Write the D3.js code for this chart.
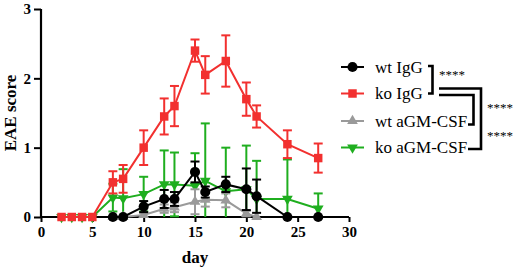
<!DOCTYPE html>
<html>
<head>
<meta charset="utf-8">
<script src="https://cdn.jsdelivr.net/npm/d3@7"></script>
<style>
  html, body { margin: 0; padding: 0; background: #fff; }
  svg { display: block; }
  svg text { font-family: "Liberation Serif", "Times New Roman", Times, "DejaVu Serif", serif !important; fill: #000; }
</style>
</head>
<body>
<svg id="chart" width="517" height="270"></svg>
<script>
// ---- data ----
const seriesNames = ["wt IgG", "ko IgG", "wt aGM-CSF", "ko aGM-CSF"];

const wtIgGDays = [7, 8, 10, 12, 13, 15, 16, 18, 20, 21, 24, 27];
const wtIgGMean = [0, 0, 0.15, 0.26, 0.26, 0.65, 0.36, 0.47, 0.40, 0.30, 0, 0];
const wtIgGErr  = [0, 0, 0.08, 0.13, 0.10, 0.15, 0.08, 0.11, 0.30, 0.24, 0, 0];

const koIgGDays = [2, 3, 4, 5, 7, 8, 10, 12, 13, 15, 16, 18, 20, 21, 24, 27];
const koIgGMean = [0, 0, 0, 0, 0.50, 0.55, 1.00, 1.45, 1.60, 2.40, 2.05, 2.25, 1.70, 1.45, 1.05, 0.85];
const koIgGErr  = [0, 0, 0, 0, 0.16, 0.20, 0.25, 0.26, 0.29, 0.16, 0.27, 0.37, 0.24, 0.16, 0.20, 0.21];

const wtGMDays = [7, 8, 10, 12, 13, 15, 16, 18, 20, 21];
const wtGMMean = [0, 0, 0.03, 0.12, 0.14, 0.22, 0.25, 0.24, 0.05, 0];
const wtGMErr  = [0, 0, 0.03, 0.06, 0.07, 0.18, 0.10, 0.10, 0.04, 0];

const koGMDays = [2, 3, 4, 5, 7, 8, 10, 12, 13, 15, 16, 18, 20, 21, 24, 27];
const koGMMean = [0, 0, 0, 0, 0.28, 0.27, 0.33, 0.47, 0.47, 0.45, 0.52, 0.37, 0.40, 0.26, 0.26, 0.12];
const koGMErr  = [0, 0, 0, 0, 0.20, 0.42, 0.25, 0.49, 0.46, 0.47, 0.83, 0.63, 0.63, 0.55, 0.57, 0.22];

const xTicks = [0, 5, 10, 15, 20, 25, 30];
const yTicks = [0, 1, 2, 3];
const sigLabel = "****";

// ---- setup ----
const FONT = '"Liberation Serif", "Times New Roman", Times, "DejaVu Serif", serif';
const svg = d3.select("#chart");
const x = d3.scaleLinear().domain([0, 30]).range([41, 349]);
const y = d3.scaleLinear().domain([0, 3]).range([217, 9]);

const styles = {
  "wt IgG":     { color: "#000000", shape: d3.symbolCircle,   size: 80, rot: 0 },
  "ko IgG":     { color: "#f2302f", shape: d3.symbolSquare,   size: 72, rot: 0 },
  "wt aGM-CSF": { color: "#9a9a9a", shape: d3.symbolTriangle, size: 50, rot: 0 },
  "ko aGM-CSF": { color: "#1fae1f", shape: d3.symbolTriangle, size: 50, rot: 180 }
};

function build(days, mean, err) {
  return days.map((d, i) => ({ day: d, v: mean[i], e: err[i] }));
}
const data = {
  "wt IgG": build(wtIgGDays, wtIgGMean, wtIgGErr),
  "ko IgG": build(koIgGDays, koIgGMean, koIgGErr),
  "wt aGM-CSF": build(wtGMDays, wtGMMean, wtGMErr),
  "ko aGM-CSF": build(koGMDays, koGMMean, koGMErr)
};

// ---- axes ----
const xAxis = svg.append("g").attr("transform", `translate(0,${y(0)})`)
  .call(d3.axisBottom(x).tickValues(xTicks).tickFormat(d3.format("d")).tickSize(5).tickPadding(4));
const yAxis = svg.append("g").attr("transform", `translate(${x(0)},0)`)
  .call(d3.axisLeft(y).tickValues(yTicks).tickFormat(d3.format("d")).tickSize(7).tickPadding(3));
[xAxis, yAxis].forEach(a => {
  a.attr("font-family", FONT);
  a.select(".domain").attr("stroke", "#000").attr("stroke-width", 2.2);
  a.selectAll(".tick line").attr("stroke", "#000").attr("stroke-width", 2);
  a.selectAll(".tick text").style("font-family", FONT)
    .attr("font-weight", "bold").attr("font-size", 15).attr("fill", "#000");
});
xAxis.select(".domain").attr("d", `M${x(0)},0H${x(30)}`);
yAxis.select(".domain").attr("d", `M0,${y(0)}V${y(3)}`);

svg.append("text").attr("x", x(15)).attr("y", 263).style("font-family", FONT)
  .attr("text-anchor", "middle").attr("font-weight", "bold").attr("font-size", 17).text("day");
svg.append("text").attr("transform", `translate(16,${(y(0) + y(3)) / 2}) rotate(-90)`).style("font-family", FONT)
  .attr("text-anchor", "middle").attr("font-weight", "bold").attr("font-size", 17).text("EAE score");

// ---- series ----
const drawOrder = ["ko aGM-CSF", "wt aGM-CSF", "wt IgG", "ko IgG"];
const line = d3.line().x(d => x(d.day)).y(d => y(d.v));
drawOrder.forEach(name => {
  const st = styles[name];
  const g = svg.append("g");
  const pts = data[name];
  g.append("path").datum(pts).attr("d", line).attr("fill", "none")
    .attr("stroke", st.color).attr("stroke-width", 2);
  const eb = g.selectAll(".eb").data(pts.filter(d => d.e > 0)).enter().append("g");
  eb.append("line").attr("x1", d => x(d.day)).attr("x2", d => x(d.day))
    .attr("y1", d => y(Math.max(0, d.v - d.e))).attr("y2", d => y(d.v + d.e))
    .attr("stroke", st.color).attr("stroke-width", 2);
  eb.append("line").attr("x1", d => x(d.day) - 4.5).attr("x2", d => x(d.day) + 4.5)
    .attr("y1", d => y(d.v + d.e)).attr("y2", d => y(d.v + d.e))
    .attr("stroke", st.color).attr("stroke-width", 2);
  eb.filter(d => d.v - d.e > 0).append("line")
    .attr("x1", d => x(d.day) - 4.5).attr("x2", d => x(d.day) + 4.5)
    .attr("y1", d => y(d.v - d.e)).attr("y2", d => y(d.v - d.e))
    .attr("stroke", st.color).attr("stroke-width", 2);
  g.selectAll(".m").data(pts).enter().append("path")
    .attr("d", d3.symbol().type(st.shape).size(st.size))
    .attr("transform", d => `translate(${x(d.day)},${y(d.v)}) rotate(${st.rot})`)
    .attr("fill", st.color);
});

// ---- legend ----
const legendY = [67, 93.5, 121, 147.5];
seriesNames.forEach((name, i) => {
  const st = styles[name];
  const g = svg.append("g").attr("transform", `translate(0,${legendY[i]})`);
  g.append("line").attr("x1", 341).attr("x2", 364).attr("stroke", st.color).attr("stroke-width", 2);
  g.append("path").attr("d", d3.symbol().type(st.shape).size(st.size))
    .attr("transform", `translate(352.5,0) rotate(${st.rot})`).attr("fill", st.color);
  g.append("text").attr("x", 375).attr("y", 0).attr("dy", "0.33em").style("font-family", FONT)
    .attr("font-size", 17).text(name);
});

// significance brackets
const br = svg.append("g").attr("fill", "none").attr("stroke", "#000").attr("stroke-width", 2.6);
br.append("path").attr("d", `M428,66H432.5V93.5H428`);
br.append("path").attr("d", `M439,88.5H481V149H468`);
br.append("path").attr("d", `M439,95H473.5V124.5H468`);
const stars = [[452, 79], [500, 112], [500, 140]];
stars.forEach(s => svg.append("text").attr("x", s[0]).attr("y", s[1]).style("font-family", FONT)
  .attr("text-anchor", "middle").attr("font-size", 13).text(sigLabel));
</script>
</body>
</html>
